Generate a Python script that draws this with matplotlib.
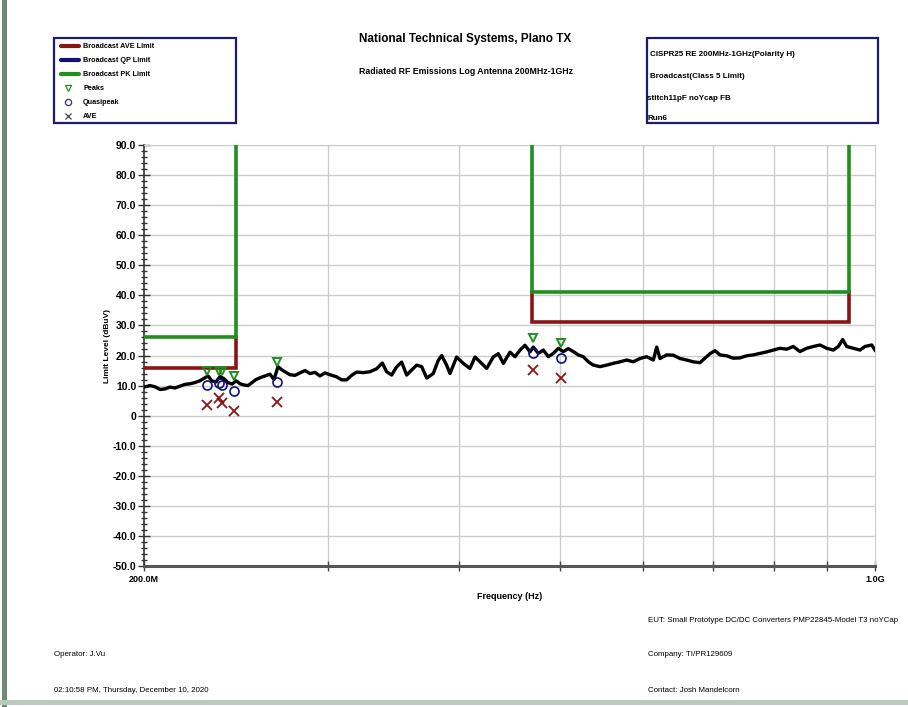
import matplotlib
matplotlib.use("Agg")
import matplotlib.pyplot as plt
from matplotlib.lines import Line2D
from matplotlib.patches import Rectangle
from matplotlib.ticker import FixedLocator, FixedFormatter, NullFormatter, MultipleLocator

plt.rcParams['font.family'] = ['Liberation Sans', 'DejaVu Sans']

trace_mhz = [200.0, 202.7, 204.9, 207.2, 209.5, 211.8, 214.1, 216.5, 218.9, 221.3,
             223.8, 226.2, 228.8, 230.3, 232.3, 234.4, 236.4, 238.5, 240.6, 242.8,
             244.9, 247.1, 249.2, 251.5, 253.7, 255.9, 258.2, 261.0, 263.9, 266.3,
             268.6, 271.0, 273.4, 275.8, 278.9, 281.9, 285.1, 288.2, 291.4, 294.6,
             297.9, 301.2, 305.7, 309.1, 312.5, 315.9, 319.4, 324.1, 328.9, 333.8,
             338.0, 341.2, 345.0, 348.8, 352.7, 356.6, 360.6, 364.5, 368.6, 372.7,
             378.1, 382.3, 385.2, 389.4, 392.3, 398.1, 403.9, 409.9, 414.5, 419.1,
             425.3, 431.5, 436.3, 441.2, 447.7, 452.7, 457.7, 462.7, 467.9, 471.3,
             476.5, 481.8, 487.1, 492.5, 498.0, 503.5, 509.0, 514.7, 520.4, 526.1,
             532.0, 537.9, 545.8, 553.9, 562.1, 570.4, 578.9, 587.3, 596.1, 604.9,
             613.8, 618.4, 622.9, 632.1, 641.4, 650.9, 660.6, 670.2, 680.2, 685.1,
             695.3, 703.0, 710.8, 721.4, 731.9, 742.8, 753.8, 764.8, 776.2, 787.8,
             799.3, 811.2, 823.2, 835.3, 847.7, 860.3, 873.0, 886.0, 899.1, 912.3,
             922.4, 931.4, 939.6, 953.4, 967.5, 978.2, 992.8, 1000.0]
trace_dbuv = [9.5, 10.0, 9.6, 8.7, 8.9, 9.5, 9.2, 9.8, 10.4, 10.6,
              11.0, 11.6, 12.6, 13.2, 11.5, 11.2, 13.0, 12.3, 11.0, 10.5,
              11.6, 10.6, 10.2, 10.0, 11.0, 12.0, 12.6, 13.2, 13.8, 12.0,
              16.3, 15.2, 14.4, 13.6, 13.4, 14.2, 15.0, 14.0, 14.4, 13.2,
              14.2, 13.6, 12.9, 11.9, 11.9, 13.4, 14.5, 14.3, 14.6, 15.6,
              17.5, 14.6, 13.5, 16.2, 17.8, 13.5, 15.2, 16.8, 16.3, 12.5,
              14.0, 18.4, 20.0, 16.8, 14.0, 19.5, 17.4, 15.7, 19.5, 17.9,
              15.7, 19.5, 20.6, 17.4, 21.1, 19.6, 21.8, 23.4, 21.2, 22.8,
              20.7, 21.8, 19.6, 20.7, 22.4, 21.3, 22.3, 21.3, 20.2, 19.6,
              17.9, 16.8, 16.3, 16.8, 17.4, 17.9, 18.5, 17.9, 19.0, 19.6,
              18.5, 22.8, 19.0, 20.2, 20.1, 19.0, 18.5, 17.9, 17.6, 18.6,
              20.6, 21.6, 20.2, 19.9, 19.1, 19.2, 19.9, 20.2, 20.7, 21.2,
              21.8, 22.4, 22.1, 23.0, 21.3, 22.4, 23.0, 23.5, 22.4, 21.8,
              23.0, 25.3, 23.0, 22.4, 21.8, 23.0, 23.5, 21.8]

# final measurements
meas_mhz = [229.9, 235.8, 237.4, 243.9, 268.0, 471.0, 500.5]
peak_dbuv = [14.8, 14.8, 14.8, 13.3, 17.9, 25.8, 24.3]
qp_dbuv = [10.1, 10.9, 10.3, 8.2, 11.2, 20.7, 19.1]
ave_dbuv = [3.6, 5.9, 4.3, 1.4, 4.4, 15.2, 12.6]

# CISPR25 class 5 broadcast limits (DAB III and TV IV/V bands)
dab_mhz = [200, 245, 245]
dab_ave = [16, 16, 26]
dab_pk = [26, 26, 90]
tv_mhz = [470, 470, 944, 944]
tv_ave = [41, 31, 31, 41]
tv_pk = [90, 41, 41, 90]

W, H = 908, 707


def fx(x):
    return x / W


def fy(y):
    return 1 - y / H


fig = plt.figure(figsize=(W / 100, H / 100), dpi=100)
ax = fig.add_axes([fx(144), fy(566), (875 - 144) / W, (566 - 145) / H])

red = '#8b1414'
green = '#1f8f1f'
navy = '#10107a'
grid = '#cccccc'

ax.set_xscale('log')
ax.set_xlim(200e6, 1e9)
ax.set_ylim(-50, 90)

ax.xaxis.set_major_locator(FixedLocator([200e6, 1e9]))
ax.xaxis.set_major_formatter(FixedFormatter(['200.0M', '1.0G']))
ax.xaxis.set_minor_locator(FixedLocator([f * 1e6 for f in range(300, 1000, 100)]))
ax.xaxis.set_minor_formatter(NullFormatter())
ax.yaxis.set_major_locator(MultipleLocator(10))
ax.yaxis.set_minor_locator(MultipleLocator(2))
ax.set_yticks(range(-50, 91, 10))
ax.set_yticklabels(['0' if v == 0 else '%.1f' % v for v in range(-50, 91, 10)])

ax.tick_params(axis='y', which='major', direction='inout', length=9, width=1, color='#333333',
               labelsize=7.5, pad=1)
ax.tick_params(axis='y', which='minor', direction='inout', length=5, width=1, color='#333333')
ax.tick_params(axis='x', which='both', direction='inout', length=7, width=1, color='#444444',
               labelsize=6.5, pad=3)
for lab in ax.get_xticklabels() + ax.get_yticklabels():
    lab.set_fontweight('bold')

ax.grid(True, axis='y', which='major', color=grid, lw=1)
ax.grid(True, axis='x', which='minor', color=grid, lw=1)
ax.set_axisbelow(True)

ax.spines['top'].set_color(grid)
ax.spines['right'].set_color(grid)
ax.spines['left'].set_color('#333333')
ax.spines['left'].set_linewidth(1.2)
ax.spines['bottom'].set_color('#555555')
ax.spines['bottom'].set_linewidth(2.2)

ax.plot([f * 1e6 for f in trace_mhz], trace_dbuv, color='black', lw=2.4, zorder=3)

ax.plot([f * 1e6 for f in dab_mhz], dab_ave, color=red, lw=2.6, zorder=4, solid_joinstyle='miter')
ax.plot([f * 1e6 for f in dab_mhz], dab_pk, color=green, lw=2.6, zorder=4, solid_joinstyle='miter')
ax.plot([f * 1e6 for f in tv_mhz], tv_ave, color=red, lw=2.6, zorder=4, solid_joinstyle='miter')
ax.plot([f * 1e6 for f in tv_mhz], tv_pk, color=green, lw=2.6, zorder=4, solid_joinstyle='miter')

meas_hz = [f * 1e6 for f in meas_mhz]
ax.plot(meas_hz, peak_dbuv, ls='none', marker='v', ms=6, mfc='none', mec=green, mew=1.4, zorder=5)
ax.plot(meas_hz, qp_dbuv, ls='none', marker='o', ms=6.5, mfc='none', mec=navy, mew=1.2, zorder=5)
ax.plot(meas_hz, ave_dbuv, ls='none', marker='x', ms=6.5, mec=red, mew=1.3, zorder=5)

ax.set_xlabel('Frequency (Hz)', fontsize=6.5, fontweight='bold')
ax.xaxis.set_label_coords((510 - 144) / 731, -(592 - 566) / 421)
ax.set_ylabel('Limit Level (dBuV)', fontsize=6, fontweight='bold')
ax.yaxis.set_label_coords(-(144 - 111) / 731, (566 - 346) / 421)

# titles
fig.text(fx(465), fy(39), 'National Technical Systems, Plano TX', ha='center', va='center',
         fontsize=8.5, fontweight='bold')
fig.text(fx(466), fy(72), 'Radiated RF Emissions Log Antenna 200MHz-1GHz', ha='center', va='center',
         fontsize=6.3, fontweight='bold')

# legend box
fig.patches.append(Rectangle((fx(54), fy(123)), (236 - 54) / W, (123 - 38) / H,
                             transform=fig.transFigure, fill=False, ec='#1c1c6e', lw=1.6))
rows = [46, 60, 74, 88, 102, 116]
names = ['Broadcast AVE Limit', 'Broadcast QP Limit', 'Broadcast PK Limit', 'Peaks', 'Quasipeak', 'AVE']
for y, c in zip(rows[:3], [red, navy, green]):
    fig.lines.append(Line2D([fx(61), fx(79)], [fy(y), fy(y)], transform=fig.transFigure,
                            color=c, lw=3, solid_capstyle='round'))
fig.lines.append(Line2D([fx(68)], [fy(rows[3])], transform=fig.transFigure, ls='none',
                        marker='v', ms=4.5, mfc='none', mec=green, mew=0.9))
fig.lines.append(Line2D([fx(68)], [fy(rows[4])], transform=fig.transFigure, ls='none',
                        marker='o', ms=4.5, mfc='none', mec='#333366', mew=0.9))
fig.lines.append(Line2D([fx(68)], [fy(rows[5])], transform=fig.transFigure, ls='none',
                        marker='x', ms=5, mec='#444444', mew=0.9))
for y, n in zip(rows, names):
    fig.text(fx(83), fy(y), n, ha='left', va='center', fontsize=5.2, fontweight='bold')

# info box
fig.patches.append(Rectangle((fx(647), fy(123)), (878 - 647) / W, (123 - 38) / H,
                             transform=fig.transFigure, fill=False, ec='#1c1c6e', lw=1.6))
info = [(650, 55, 'CISPR25 RE 200MHz-1GHz(Polarity H)'),
        (650, 77, 'Broadcast(Class 5 Limit)'),
        (647, 98, 'stitch11pF noYcap FB'),
        (647, 119, 'Run6')]
for x, y, t in info:
    fig.text(fx(x), fy(y), t, ha='left', va='center', fontsize=5.8, fontweight='bold')

# footer
footer = [(648, 620, 'EUT: Small Prototype DC/DC Converters PMP22845-Model T3 noYCap'),
          (54, 655, 'Operator: J.Vu'),
          (648, 655, 'Company: TI/PR129609'),
          (54, 690, '02:10:58 PM, Thursday, December 10, 2020'),
          (648, 690, 'Contact: Josh Mandelcorn')]
for x, y, t in footer:
    fig.text(fx(x), fy(y), t, ha='left', va='center', fontsize=5.7)

# window edges of the scan
fig.patches.append(Rectangle((fx(2), 0), 5 / W, 1, transform=fig.transFigure, color='#6f8a72', lw=0))
fig.patches.append(Rectangle((0, fy(705)), 1, 5 / H, transform=fig.transFigure, color='#b9c9bb', lw=0))

fig.savefig('out.png', dpi=100)
